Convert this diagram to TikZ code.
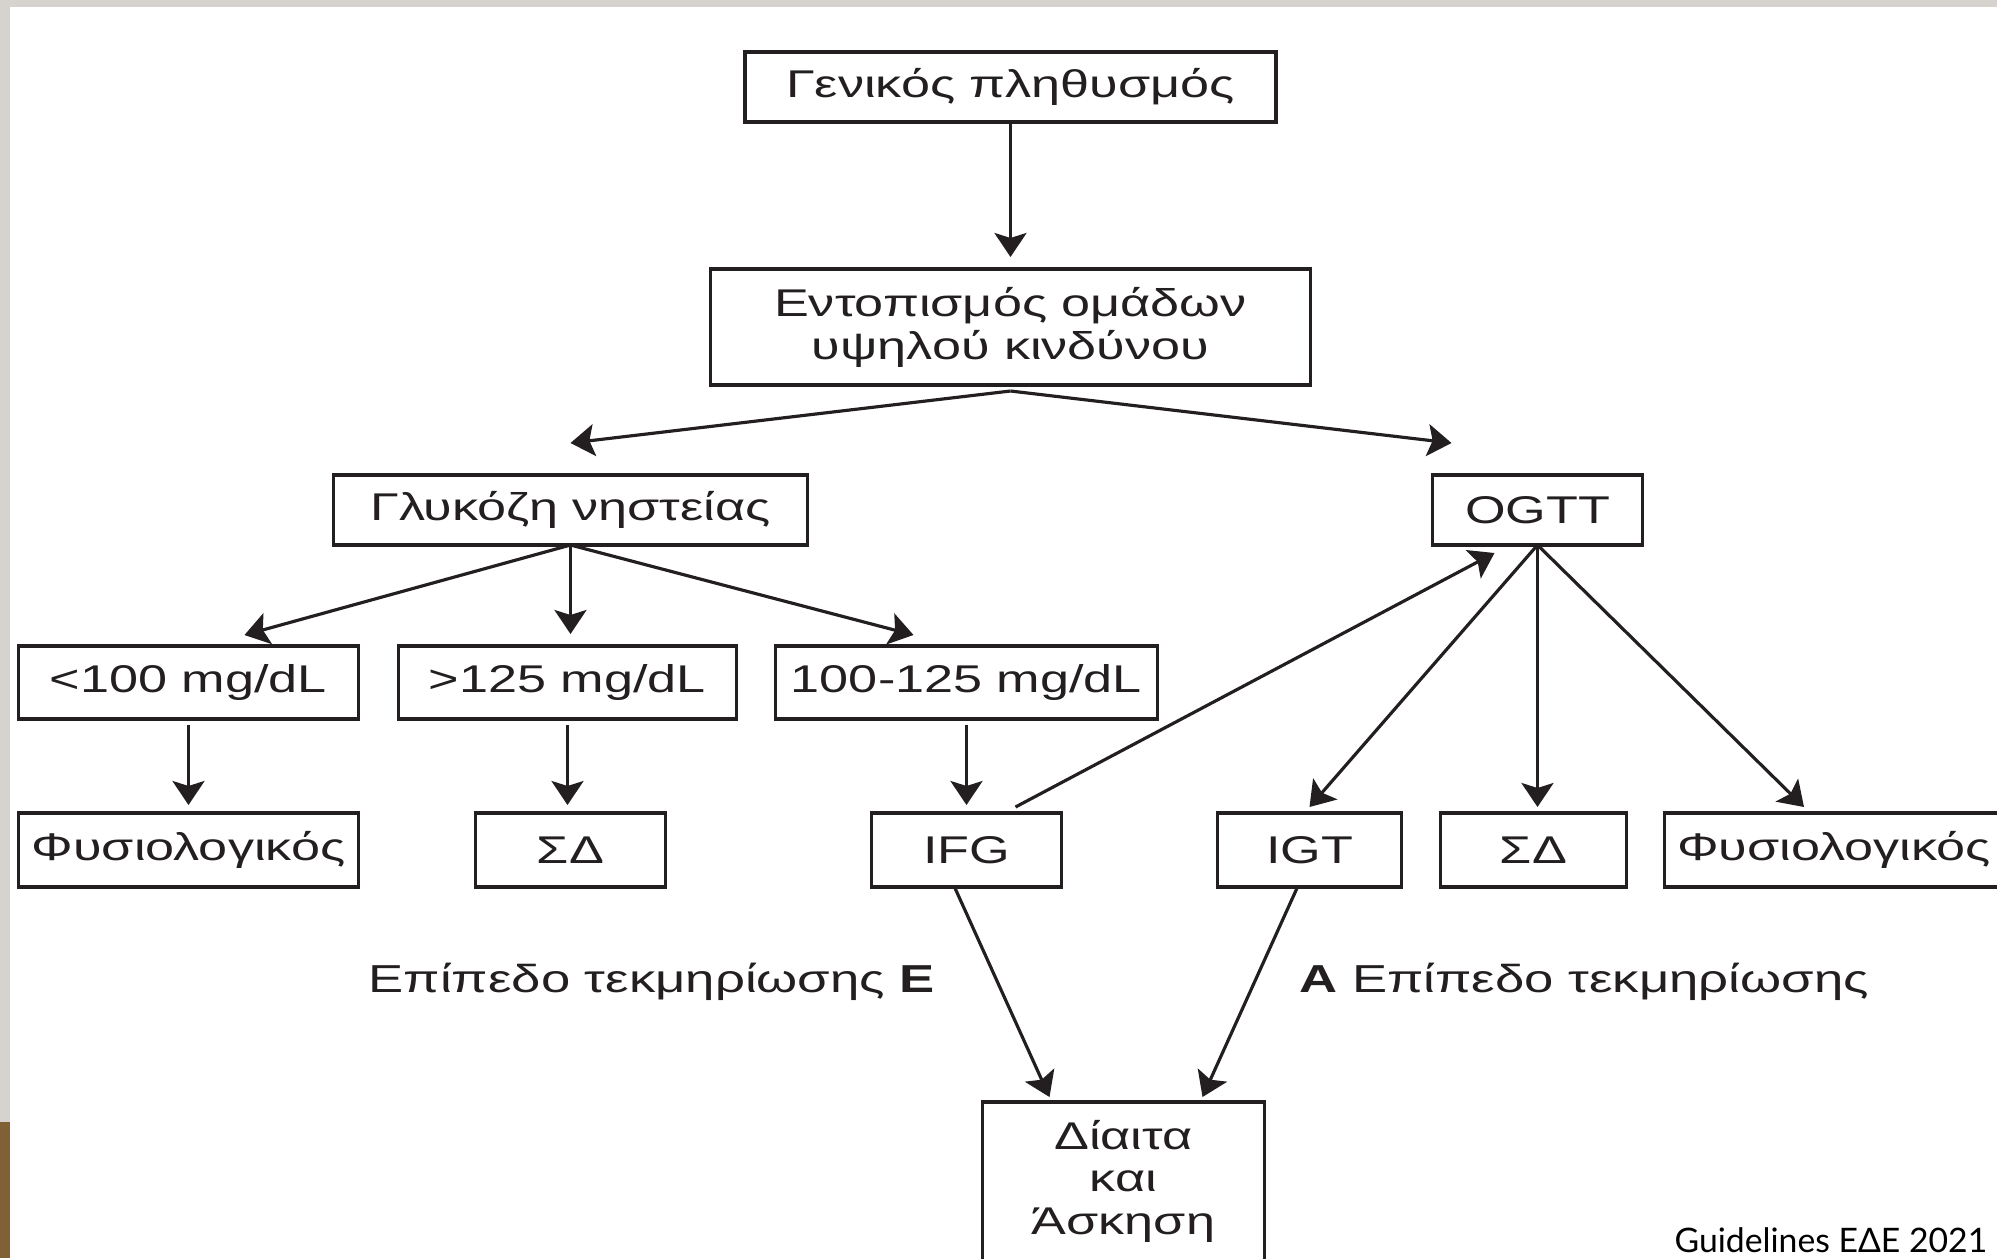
\documentclass[tikz,border=0pt]{standalone}
\usepackage{fontspec}
\usepackage{xcolor}
\usepackage{tikz}
\usetikzlibrary{shapes,arrows.meta,positioning,calc}

\newfontfamily\diagfont[FakeStretch=1.35]{Liberation Sans}
\newfontfamily\footfont{Lato}
\definecolor{ink}{HTML}{231F20}
\definecolor{frame}{HTML}{D6D2CD}
\definecolor{wood}{HTML}{7F6135}

\begin{document}
\begin{tikzpicture}[
    node distance=0.9cm and 0.4cm,
    box/.style={rectangle, draw=ink, line width=1.1pt, align=center, inner sep=0pt, outer sep=0pt, minimum height=0.73cm, text=ink, font=\diagfont\fontsize{11}{12.2}\selectfont},
    lbl/.style={inner sep=0pt, text=ink, font=\diagfont\fontsize{11.1}{13}\selectfont},
    foot/.style={inner sep=0pt, text=black, font=\footfont\fontsize{9.6}{11}\selectfont},
    arrow/.style={-{Stealth[length=2.4mm, width=3.2mm, inset=0.5mm]}, line width=0.9pt, draw=ink}
]
    \useasboundingbox (0,0) rectangle (19.97,-12.58);
    \clip (0,0) rectangle (19.97,-12.58);
    % slide frame
    \fill[frame] (0,0) rectangle (19.97,-0.07);
    \fill[frame] (0,0) rectangle (0.10,-11.22);
    \fill[wood] (0,-11.22) rectangle (0.10,-12.58);

    \node [box, minimum width=5.31cm, minimum height=0.70cm] (pop) at (10.105,-0.87) {Γενικός πληθυσμός};
    \node [box, minimum width=6.00cm, minimum height=1.16cm, below=1.47cm of pop] (risk) {Εντοπισμός ομάδων\\υψηλού κινδύνου};
    \node [box, minimum width=4.74cm, minimum height=0.70cm, below=0.90cm of risk, xshift=-4.40cm] (fpg) {Γλυκόζη νηστείας};
    \node [box, minimum width=2.10cm, minimum height=0.70cm, below=0.90cm of risk, xshift=5.27cm] (ogtt) {OGTT};

    % fasting glucose branch
    \node [box, minimum width=3.38cm, below=1.01cm of fpg, xshift=-0.03cm] (hi) {>125 mg/dL};
    \node [box, minimum width=3.40cm, left=0.40cm of hi] (lo) {<100 mg/dL};
    \node [box, minimum width=3.82cm, right=0.39cm of hi] (mid) {100-125 mg/dL};

    \node [box, minimum width=3.40cm, minimum height=0.74cm, below=0.94cm of lo] (nor1) {Φυσιολογικός};
    \node [box, minimum width=1.90cm, minimum height=0.74cm, below=0.94cm of hi, xshift=0.03cm] (dm1) {ΣΔ};
    \node [box, minimum width=1.90cm, minimum height=0.74cm, below=0.94cm of mid] (ifg) {IFG};
    \node [box, minimum width=1.84cm, minimum height=0.74cm, right=1.56cm of ifg] (igt) {IGT};
    \node [box, minimum width=1.86cm, minimum height=0.74cm, right=0.39cm of igt] (dm2) {ΣΔ};
    \node [box, minimum width=3.39cm, minimum height=0.74cm, right=0.38cm of dm2] (nor2) {Φυσιολογικός};

    \node [box, minimum width=2.82cm, below=2.15cm of ifg, xshift=1.57cm] (diet) {\rule{0pt}{0.47cm}Δίαιτα\\και\\Άσκηση\rule[-0.8cm]{0pt}{0.8cm}};

    \node [lbl, anchor=base west] (lvlE) at (3.68,-9.92) {Επίπεδο τεκμηρίωσης \textbf{E}};
    \node [lbl, anchor=base west] (lvlA) at (12.99,-9.92) {\textbf{A} Επίπεδο τεκμηρίωσης};
    \node [foot, anchor=base east] (src) at (19.88,-12.52) {Guidelines ΕΔΕ 2021};

    \draw [arrow, shorten >=1.2mm] (pop) -- (risk);
    \draw [arrow] ([yshift=-0.6mm]risk.south) -- ([yshift=3.2mm]fpg.north);
    \draw [arrow] ([yshift=-0.6mm]risk.south) -- ([xshift=-8.6mm, yshift=3.2mm]ogtt.north);

    \draw [arrow] (fpg.south) -- ([xshift=5.6mm, yshift=1.1mm]lo.north);
    \draw [arrow, shorten >=1.2mm] (fpg.south) -- (fpg.south |- hi.north);
    \draw [arrow] (fpg.south) -- ([xshift=-5.3mm, yshift=1.1mm]mid.north);

    \draw [arrow, shorten <=0.6mm, shorten >=0.8mm] (lo) -- (nor1);
    \draw [arrow, shorten <=0.6mm, shorten >=0.8mm] (hi.south) -- (hi.south |- dm1.north);
    \draw [arrow, shorten <=0.6mm, shorten >=0.8mm] (mid) -- (ifg);

    \draw [arrow] (ogtt.south) -- ([yshift=0.6mm]igt.north);
    \draw [arrow, shorten >=0.6mm] (ogtt.south) -- (ogtt.south |- dm2.north);
    \draw [arrow] (ogtt.south) -- ([xshift=-3.0mm, yshift=0.6mm]nor2.north);
    \draw [arrow] ([xshift=4.9mm, yshift=0.6mm]ifg.north) -- ([xshift=-4.3mm, yshift=-0.8mm]ogtt.south);

    \draw [arrow] ([xshift=-1.2mm]ifg.south) -- ([xshift=-7.4mm, yshift=0.5mm]diet.north);
    \draw [arrow] ([xshift=-1.2mm]igt.south) -- ([xshift=7.9mm, yshift=0.5mm]diet.north);
\end{tikzpicture}
\end{document}
